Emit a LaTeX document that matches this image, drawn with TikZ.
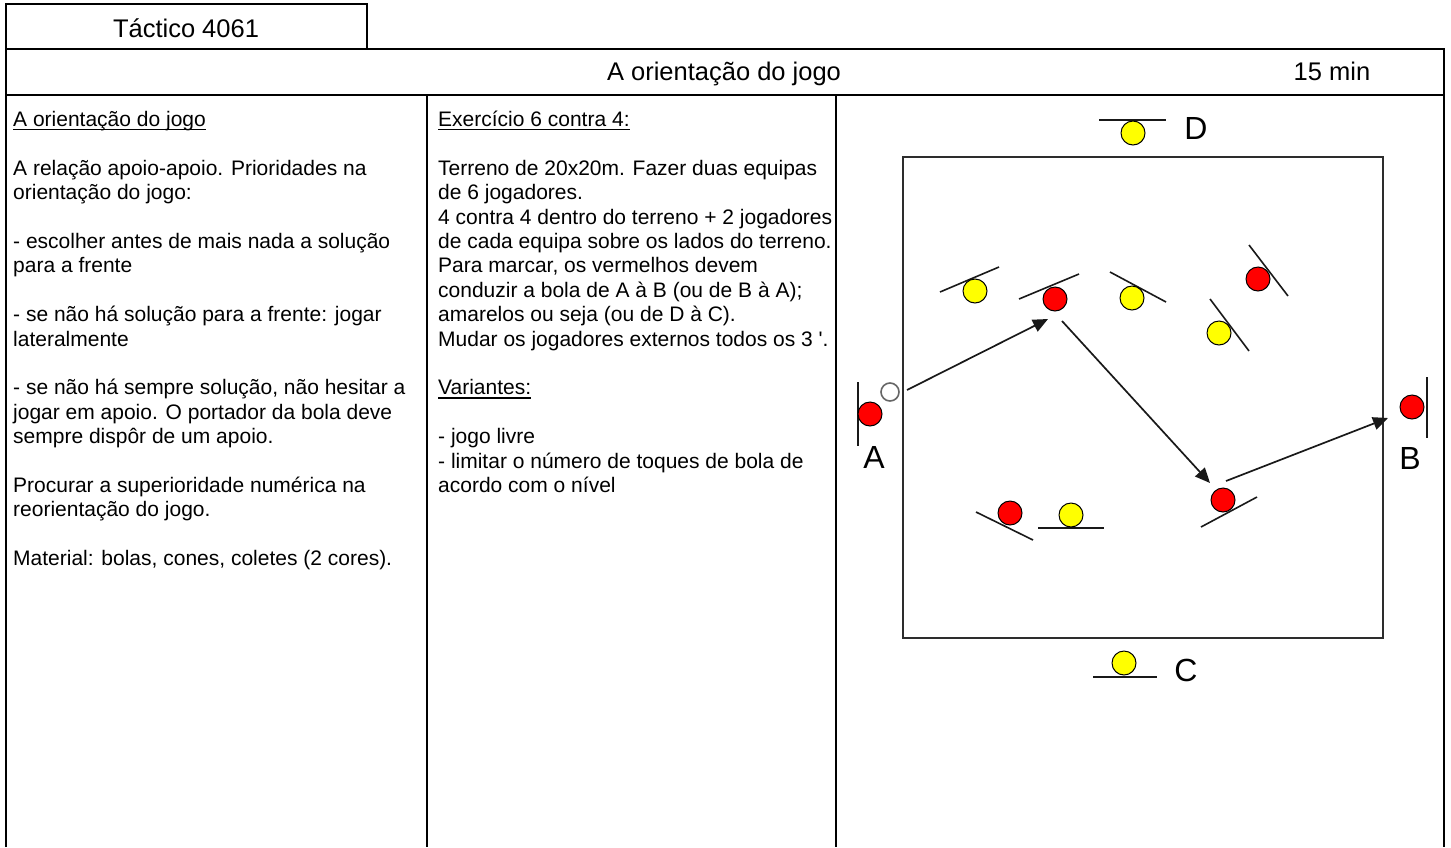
\documentclass[tikz,border=0pt]{standalone}
\usepackage{fontspec}
\setmainfont{Liberation Sans}
\newfontfamily\plainfont{Liberation Sans}
\usetikzlibrary{arrows.meta}
\definecolor{fieldline}{RGB}{45,45,45}
\definecolor{plred}{RGB}{255,0,0}
\definecolor{plyellow}{RGB}{255,255,0}
\begin{document}
\begin{tikzpicture}[x=1pt,y=-1pt,
  frame/.style={line width=2.5pt,black},
  body/.style={anchor=base west,inner sep=0pt,font=\fontsize{21}{24}\selectfont},
  head/.style={anchor=base,inner sep=0pt,font=\fontsize{25.5}{30}\selectfont},
  uline/.style={line width=1.3pt,black},
  redpl/.style={circle,draw=black,line width=1pt,fill=plred,minimum size=24pt,inner sep=0pt},
  yelpl/.style={circle,draw=black,line width=1pt,fill=plyellow,minimum size=24pt,inner sep=0pt},
  ballst/.style={circle,draw=black!60,line width=1.6pt,fill=white,minimum size=18pt,inner sep=0pt},
  bar/.style={line width=1.6pt,black!90},
  pass/.style={line width=1.7pt,black!90,-{Triangle[length=15pt,width=13pt]}},
  letter/.style={inner sep=0pt,font=\fontsize{32}{32}\selectfont},
  field/.style={line width=2pt,fieldline}]
\path[use as bounding box,fill=white] (0,0) rectangle (1451,847);

% frame
\draw[frame] (6,49) -- (6,4) -- (367,4) -- (367,49);
\draw[frame] (6,847) -- (6,49) -- (1444,49) -- (1444,847);
\draw[frame] (6,95) -- (1444,95);
\draw[frame] (427,95) -- (427,847);
\draw[frame] (836,95) -- (836,847);

% headers
\node[head] (title) at (186,37) {Táctico 4061};
\node[head] (theme) at (724,80) {A orientação do jogo};
\node[head] (dur) at (1332,80) {15 min};

% left column
\node[body] (lh) at (13,126.5) {A orientação do jogo};
\draw[uline] ([yshift=-3pt]lh.base west) -- ([yshift=-3pt]lh.base east);
\node[body] (l1) at (13,175.3) {A relação apoio-apoio. Prioridades na};
\node[body] (l2) at (13,199.7) {orientação do jogo:};
\node[body] (l3) at (13,248.5) {- escolher antes de mais nada a solução};
\node[body] (l4) at (13,272.9) {para a frente};
\node[body] (l5) at (13,321.7) {- se não há solução para a frente: jogar};
\node[body] (l6) at (13,346.1) {lateralmente};
\node[body] (l7) at (13,394.9) {- se não há sempre solução, não hesitar a};
\node[body] (l8) at (13,419.3) {jogar em apoio. O portador da bola deve};
\node[body] (l9) at (13,443.7) {sempre dispôr de um apoio.};
\node[body] (l10) at (13,492.5) {Procurar a superioridade numérica na};
\node[body] (l11) at (13,516.9) {reorientação do jogo.};
\node[body] (l12) at (13,565.7) {Material: bolas, cones, coletes (2 cores).};

% middle column
\node[body] (mh) at (438,126.5) {Exercício 6 contra 4:};
\draw[uline] ([yshift=-3pt]mh.base west) -- ([yshift=-3pt]mh.base east);
\node[body] (m1) at (438,175.3) {Terreno de 20x20m. Fazer duas equipas};
\node[body] (m2) at (438,199.7) {de 6 jogadores.};
\node[body] (m3) at (438,224.1) {4 contra 4 dentro do terreno + 2 jogadores};
\node[body] (m4) at (438,248.5) {de cada equipa sobre os lados do terreno.};
\node[body] (m5) at (438,272.9) {Para marcar, os vermelhos devem};
\node[body] (m6) at (438,297.3) {conduzir a bola de A à B (ou de B à A);};
\node[body] (m7) at (438,321.7) {amarelos ou seja (ou de D à C).};
\node[body] (m8) at (438,346.1) {Mudar os jogadores externos todos os 3 {\plainfont'}.};
\node[body] (vh) at (438,394.9) {Variantes:};
\draw[uline] ([yshift=-3pt]vh.base west) -- ([yshift=-3pt]vh.base east);
\node[body] (v1) at (438,443.7) {- jogo livre};
\node[body] (v2) at (438,468.1) {- limitar o número de toques de bola de};
\node[body] (v3) at (438,492.5) {acordo com o nível};

% field
\draw[field] (903,157) rectangle (1383,638);

% orientation bars
\draw[bar] (1099,120) -- (1166,120);   % D
\draw[bar] (1093,677) -- (1157,677);   % C
\draw[bar] (858,382) -- (858,446);     % A
\draw[bar] (1427,377) -- (1427,438);   % B
\draw[bar] (940,292) -- (999,267);
\draw[bar] (1019,299) -- (1079,274);
\draw[bar] (1110,272) -- (1166,302);
\draw[bar] (1249,245) -- (1288,296);
\draw[bar] (1210,299) -- (1249,351);
\draw[bar] (976,512) -- (1033,540);
\draw[bar] (1038,528) -- (1104,528);
\draw[bar] (1201,527) -- (1257,497);

% players
\node[yelpl] (pD) at (1133,133) {};
\node[yelpl] (pC) at (1124,663) {};
\node[redpl] (pA) at (870,414) {};
\node[redpl] (pB) at (1412,407) {};
\node[yelpl] (p5) at (975,291) {};
\node[redpl] (p6) at (1055,299) {};
\node[yelpl] (p7) at (1132,298) {};
\node[redpl] (p8) at (1258,279) {};
\node[yelpl] (p9) at (1219,333) {};
\node[redpl] (p10) at (1010,513) {};
\node[yelpl] (p11) at (1071,515) {};
\node[redpl] (p12) at (1223,500) {};
\node[ballst] (ballA) at (890,392) {};

% labels
\node[letter] (lA) at (874,457) {A};
\node[letter] (lB) at (1410,458) {B};
\node[letter] (lC) at (1186,670) {C};
\node[letter] (lD) at (1196,128) {D};

% passes
\draw[pass] ([shift={(17,-2)}]ballA.center) -- ([shift={(-7,20)}]p6.center);
\draw[pass] ([shift={(7,22)}]p6.center) -- ([shift={(-13,-17)}]p12.center);
\draw[pass] ([shift={(3,-19)}]p12.center) -- ([shift={(-24,11)}]pB.center);
\end{tikzpicture}
\end{document}
